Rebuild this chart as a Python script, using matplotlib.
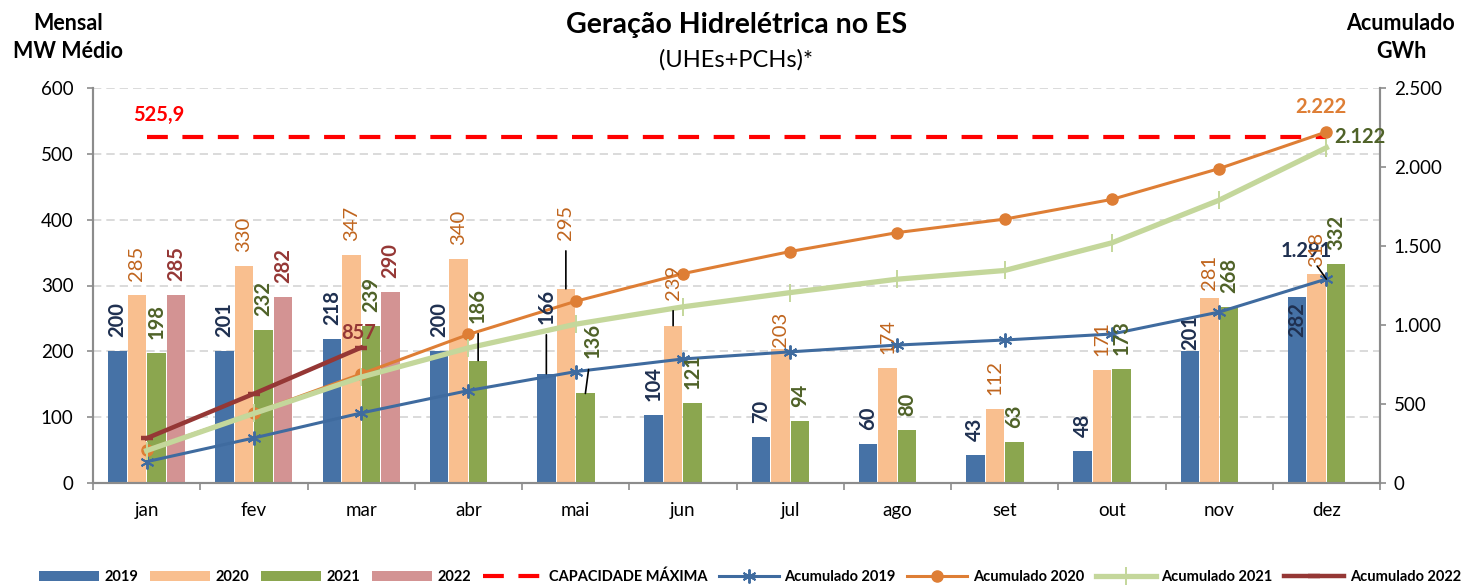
import numpy as np
import matplotlib.pyplot as plt
from matplotlib.ticker import FixedLocator

plt.rcParams['font.family'] = ['Lato', 'DejaVu Sans']

# dados
meses = ['jan', 'fev', 'mar', 'abr', 'mai', 'jun', 'jul', 'ago', 'set', 'out', 'nov', 'dez']
g2019 = [200, 201, 218, 200, 166, 104, 70, 60, 43, 48, 201, 282]
g2020 = [285, 330, 347, 340, 295, 239, 203, 174, 112, 171, 281, 318]
g2021 = [198, 232, 239, 186, 136, 121, 94, 80, 63, 173, 268, 332]
g2022 = [285, 282, 290]
acum2019 = [135, 285, 443, 585, 705, 785, 830, 873, 905, 943, 1082, 1291]
acum2020 = [210, 443, 690, 940, 1150, 1325, 1465, 1585, 1670, 1795, 1990, 2222]
acum2021 = [205, 440, 670, 855, 1005, 1115, 1205, 1290, 1345, 1520, 1790, 2122]
acum2022 = [283, 565, 857]
capacidade = 525.9

cor19, cor20, cor21, cor22 = '#4672A6', '#F9BF8F', '#8BA64F', '#D39393'
lin19, lin20, lin21, lin22 = '#3F6B9F', '#DE7E35', '#C4D79B', '#953735'
txt19, txt20, txt21, txt22 = '#1F3050', '#C0651E', '#4F6228', '#953735'
cinza = '#8C8C8C'

fig = plt.figure(figsize=(14.61, 5.86), dpi=100)
ax = fig.add_axes([93 / 1461, 103 / 586, 1287 / 1461, 395 / 586])
ax2 = ax.twinx()

x = np.arange(len(meses))
passo = 0.182
larg = 0.172
b19 = ax.bar(x - 1.5 * passo, g2019, width=larg, color=cor19, zorder=2)
b20 = ax.bar(x - 0.5 * passo, g2020, width=larg, color=cor20, zorder=2)
b21 = ax.bar(x + 0.5 * passo, g2021, width=larg, color=cor21, zorder=2)
b22 = ax.bar(np.arange(len(g2022)) + 1.5 * passo, g2022, width=larg, color=cor22, zorder=2)
cap, = ax.plot([x[0], x[-1]], [capacidade, capacidade], color='#FF0000', lw=3,
               dashes=(5, 3.5), zorder=3)

ax.set_xlim(-0.5, 11.5)
ax.set_ylim(0, 600)
ax.set_yticks(range(0, 601, 100))
ax.yaxis.grid(True, color='#D4D4D4', lw=1.2, dashes=(5, 3))
ax.set_axisbelow(True)

ax2.set_ylim(0, 2500)
ax2.set_yticks(range(0, 2501, 500))
ax2.set_yticklabels([f'{v:,}'.replace(',', '.') for v in range(0, 2501, 500)])

# eixo x: traços nos limites das categorias, rótulos no centro
ax.xaxis.set_major_locator(FixedLocator(np.arange(-0.5, 12, 1)))
ax.xaxis.set_major_formatter(plt.NullFormatter())
ax.set_xticks(x, minor=True)
ax.set_xticklabels(meses, minor=True)
ax.tick_params(axis='x', which='major', length=5, width=1.2, color=cinza)
ax.tick_params(axis='x', which='minor', length=0, pad=14, labelsize=13.5)
ax.tick_params(axis='y', length=4, width=1.2, color=cinza, pad=10, labelsize=13.5)
ax2.tick_params(axis='y', length=4, width=1.2, color=cinza, pad=6, labelsize=13.5)

for a in (ax, ax2):
    a.spines['top'].set_visible(False)
    for s in ('left', 'right', 'bottom'):
        a.spines[s].set_color(cinza)
        a.spines[s].set_linewidth(1.5)

# linhas acumuladas
l19, = ax2.plot(x, acum2019, color=lin19, lw=2.2, marker=(6, 2, 0), ms=10, mew=1.4, zorder=3)
l20, = ax2.plot(x, acum2020, color=lin20, lw=2.2, marker='o', ms=8, zorder=3)
l21, = ax2.plot(x, acum2021, color=lin21, lw=3.8, marker='|', ms=13, mew=1.4, zorder=3)
l22, = ax2.plot(x[:len(acum2022)], acum2022, color=lin22, lw=3.2, marker='_', ms=9, mew=3.2, zorder=3)

# rótulos das barras (deslocamento em px acima do topo)
PX = 72 / 100
base = 14
ajuste = {
    ('2020', 6): 2, ('2019', 10): 1, ('2020', 10): 8, ('2020', 11): 7, ('2019', 11): -40,
    ('2019', 4): 50, ('2020', 4): 49, ('2021', 4): 35, ('2021', 3): 38, ('2020', 5): 26,
}
guia = {('2019', 4), ('2020', 4), ('2021', 4), ('2021', 3), ('2020', 5)}
desloc_x = {('2021', 4): 7}

series = [('2019', g2019, -1.5, txt19, 'bold'), ('2020', g2020, -0.5, txt20, 'normal'),
          ('2021', g2021, 0.5, txt21, 'bold'), ('2022', g2022, 1.5, txt22, 'bold')]
for nome, vals, k, cor, peso in series:
    for i, v in enumerate(vals):
        dy = ajuste.get((nome, i), base)
        dx = desloc_x.get((nome, i), 0)
        seta = None
        if (nome, i) in guia:
            seta = dict(arrowstyle='-', color='black', lw=1.2, shrinkA=6, shrinkB=0)
        ax2.annotate(str(v), xy=(i + k * passo, v), xycoords=ax.transData,
                     xytext=(dx * PX, dy * PX), textcoords='offset points',
                     rotation=90, ha='center', va='bottom', fontsize=14.5,
                     color=cor, fontweight=peso, arrowprops=seta, zorder=5)

def milhar(v):
    return f'{v:,}'.replace(',', '.')

ax2.annotate(milhar(acum2020[-1]), xy=(x[-1], acum2020[-1]), xytext=(-5 * PX, 15 * PX),
             textcoords='offset points', ha='center', va='bottom', fontsize=14.5,
             fontweight='bold', color=lin20)
ax2.annotate(milhar(acum2021[-1]), xy=(x[-1], acum2021[-1]), xytext=(8 * PX, 11 * PX),
             textcoords='offset points', ha='left', va='center', fontsize=14.5,
             fontweight='bold', color=txt21)
ax2.annotate(milhar(acum2019[-1]), xy=(x[-1], acum2019[-1]), xytext=(-20 * PX, 28 * PX),
             textcoords='offset points', ha='center', va='center', fontsize=14.5,
             fontweight='bold', color=txt19,
             arrowprops=dict(arrowstyle='-', color='black', lw=1.2, shrinkA=2, shrinkB=0))
ax2.annotate(str(acum2022[-1]), xy=(len(acum2022) - 1, acum2022[-1]), xytext=(-2 * PX, 5 * PX),
             textcoords='offset points', ha='center', va='bottom', fontsize=14.5,
             fontweight='bold', color=txt22)
ax2.annotate(f'{capacidade:.1f}'.replace('.', ','), xy=(x[0], capacidade), xycoords=ax.transData,
             xytext=(12 * PX, 22 * PX), textcoords='offset points', ha='center', va='center',
             fontsize=14.5, fontweight='bold', color='#FF0000')

# títulos
fig.text(736.5 / 1461, 553 / 586, 'Geração Hidrelétrica no ES', ha='center', va='baseline',
         fontsize=20.5, fontweight='bold')
fig.text(736.5 / 1461, 519 / 586, '(UHEs+PCHs)*', ha='center', va='baseline', fontsize=17)
fig.text(68 / 1461, 556 / 586, 'Mensal', ha='center', va='baseline', fontsize=15.5, fontweight='bold')
fig.text(68 / 1461, 528 / 586, 'MW Médio', ha='center', va='baseline', fontsize=15.5, fontweight='bold')
fig.text(1401 / 1461, 556 / 586, 'Acumulado', ha='center', va='baseline', fontsize=15.5, fontweight='bold')
fig.text(1401 / 1461, 528 / 586, 'GWh', ha='center', va='baseline', fontsize=15.5, fontweight='bold')

handles = [b19, b20, b21, b22, cap, l19, l20, l21, l22]
labels = ['2019', '2020', '2021', '2022', 'CAPACIDADE MÁXIMA', 'Acumulado 2019',
          'Acumulado 2020', 'Acumulado 2021', 'Acumulado 2022']
fig.legend(handles, labels, loc='center', bbox_to_anchor=(750 / 1461, 9 / 586), ncol=9,
           frameon=False, handlelength=4.1, handletextpad=0.4, columnspacing=0.8,
           numpoints=1, prop={'weight': 'bold', 'size': 10.5})

fig.savefig('out.png', dpi=100)
